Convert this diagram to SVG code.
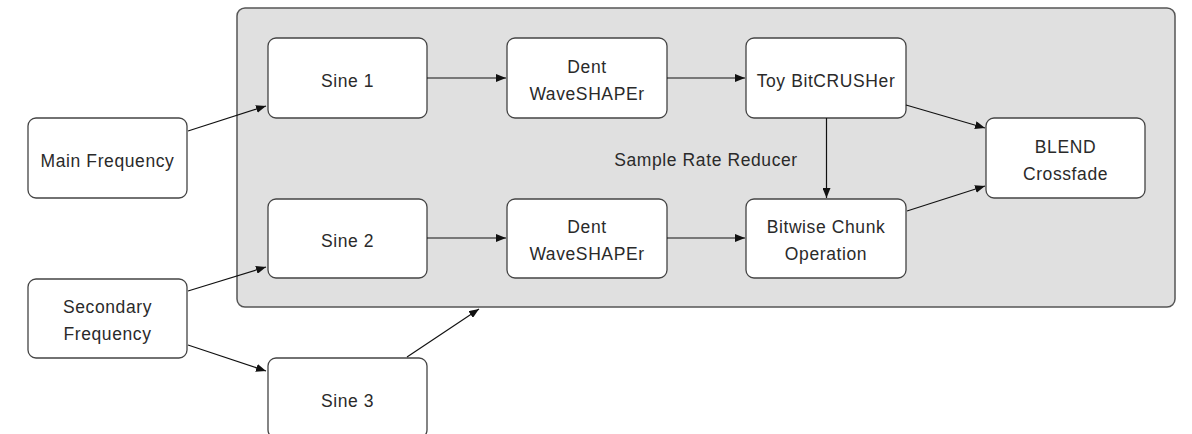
<svg xmlns="http://www.w3.org/2000/svg" width="1192" height="434" viewBox="0 0 1192 434">
<style>
.box{fill:#fff;stroke:#444;stroke-width:1.3}
.grp{fill:#e0e0e0;stroke:#555;stroke-width:1.5}
.t{font-family:"Liberation Sans",Arial,sans-serif;font-size:17.5px;letter-spacing:0.6px;fill:#2a2a2a;text-anchor:middle}
.c{stroke:#111;stroke-width:1.2;fill:none;marker-end:url(#ah)}
</style>
<defs>
<marker id="ah" viewBox="0 0 10 8" refX="10" refY="4" markerWidth="10" markerHeight="8" markerUnits="userSpaceOnUse" orient="auto">
<path d="M0,0 L10,4 L0,8 Z" fill="#111"/>
</marker>
</defs>
<g id="container"><rect class="grp" x="237" y="8" width="938" height="299" rx="8"/></g>
<g id="main-frequency"><rect class="box" x="28" y="118" width="159" height="80" rx="8"/><text class="t" x="107.5" y="167">Main Frequency</text></g>
<g id="secondary-frequency"><rect class="box" x="28" y="279" width="159" height="79" rx="8"/><text class="t" x="107.5" y="313">Secondary</text><text class="t" x="107.5" y="340">Frequency</text></g>
<g id="sine1"><rect class="box" x="268" y="38" width="159" height="80" rx="8"/><text class="t" x="347.5" y="87">Sine 1</text></g>
<g id="sine2"><rect class="box" x="268" y="199" width="159" height="79" rx="8"/><text class="t" x="347.5" y="247">Sine 2</text></g>
<g id="sine3"><rect class="box" x="268" y="358" width="159" height="80" rx="8"/><text class="t" x="347.5" y="407">Sine 3</text></g>
<g id="dent1"><rect class="box" x="507" y="38" width="160" height="80" rx="8"/><text class="t" x="587" y="73">Dent</text><text class="t" x="587" y="100">WaveSHAPEr</text></g>
<g id="dent2"><rect class="box" x="507" y="199" width="160" height="79" rx="8"/><text class="t" x="587" y="233">Dent</text><text class="t" x="587" y="260">WaveSHAPEr</text></g>
<g id="toy-bitcrusher"><rect class="box" x="746" y="38" width="160" height="80" rx="8"/><text class="t" x="826" y="87">Toy BitCRUSHer</text></g>
<g id="bitwise-chunk"><rect class="box" x="746" y="199" width="160" height="79" rx="8"/><text class="t" x="826" y="233">Bitwise Chunk</text><text class="t" x="826" y="260">Operation</text></g>
<g id="blend"><rect class="box" x="986" y="118" width="159" height="80" rx="8"/><text class="t" x="1065.5" y="153">BLEND</text><text class="t" x="1065.5" y="180">Crossfade</text></g>
<g id="label-sample-rate"><text class="t" x="706" y="166">Sample Rate Reducer</text></g>
<g id="connectors">
<line class="c" x1="188" y1="131" x2="266" y2="106"/>
<line class="c" x1="427" y1="78" x2="506" y2="78"/>
<line class="c" x1="667" y1="78" x2="745" y2="78"/>
<line class="c" x1="906" y1="105" x2="985" y2="128"/>
<line class="c" x1="826.5" y1="118" x2="826.5" y2="198"/>
<line class="c" x1="907" y1="211" x2="985" y2="186"/>
<line class="c" x1="427" y1="238" x2="506" y2="238"/>
<line class="c" x1="667" y1="238" x2="745" y2="238"/>
<line class="c" x1="188" y1="291" x2="266" y2="267"/>
<line class="c" x1="188" y1="345" x2="266" y2="371"/>
<line class="c" x1="407" y1="357" x2="479" y2="309"/>
</g>
</svg>
